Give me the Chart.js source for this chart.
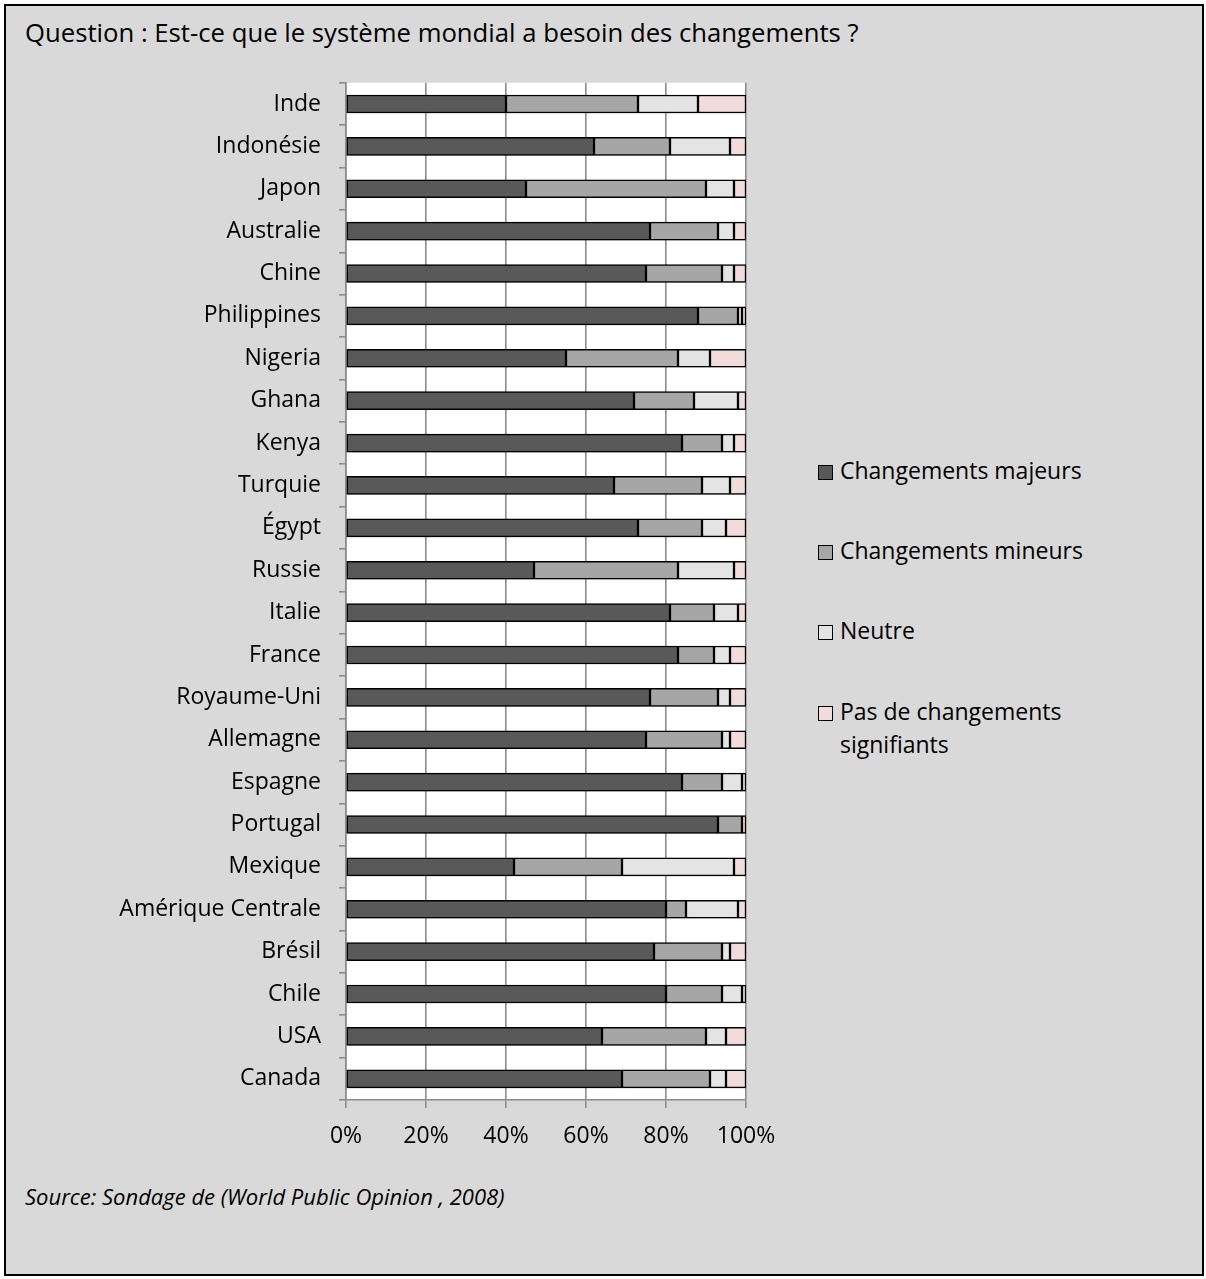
<!DOCTYPE html>
<html lang="fr">
<head>
<meta charset="utf-8">
<title>Système mondial - changements</title>
<script src="https://cdn.jsdelivr.net/npm/chart.js"></script>
<style>
  html, body { margin: 0; padding: 0; background: #fff; }
  body { width: 1206px; height: 1279px; position: relative; font-family: "Open Sans", sans-serif; color: #000; }
  #frame { position: absolute; left: 4px; top: 4px; width: 1196px; height: 1268px; background: #d9d9d9; border: 2px solid #000; }
  #title { position: absolute; left: 25px; top: 15px; font-size: 25.7px; white-space: nowrap; }
  #source { position: absolute; left: 25px; top: 1181px; font-size: 22px; font-style: italic; white-space: nowrap; }
  #chartBox { position: absolute; left: 0; top: 51px; width: 800px; height: 1100px; }
  #legend { position: absolute; left: 818px; top: 454px; font-size: 23px; }
  .item { position: absolute; left: 0; white-space: nowrap; line-height: 33px; }
  .item .sw { position: absolute; left: 0; top: 11px; width: 13px; height: 13px; border: 1px solid #000; }
  .item .txt { position: absolute; left: 22px; top: 0; }
</style>
</head>
<body>
<div id="frame"></div>
<div id="title">Question : Est-ce que le système mondial a besoin des changements ?</div>
<div id="chartBox"><canvas id="chart" width="800" height="1100"></canvas></div>
<div id="legend"></div>
<div id="source">Source: Sondage de (World Public Opinion , 2008)</div>
<script>
// categories, top to bottom
const pays = ['Inde', 'Indonésie', 'Japon', 'Australie', 'Chine', 'Philippines', 'Nigeria', 'Ghana',
    'Kenya', 'Turquie', 'Égypt', 'Russie', 'Italie', 'France', 'Royaume-Uni', 'Allemagne', 'Espagne',
    'Portugal', 'Mexique', 'Amérique Centrale', 'Brésil', 'Chile', 'USA', 'Canada'];

// shares in %
const majeurs = [40, 62, 45, 76, 75, 88, 55, 72, 84, 67, 73, 47, 81, 83, 76, 75, 84, 93, 42, 80, 77, 80, 64, 69];
const mineurs = [33, 19, 45, 17, 19, 10, 28, 15, 10, 22, 16, 36, 11, 9, 17, 19, 10, 6, 27, 5, 17, 14, 26, 22];
const neutre = [15, 15, 7, 4, 3, 1, 8, 11, 3, 7, 6, 14, 6, 4, 3, 2, 5, 0, 28, 13, 2, 5, 5, 4];
const pasDeChangements = [12, 4, 3, 3, 3, 1, 9, 2, 3, 4, 5, 3, 2, 4, 4, 4, 1, 1, 3, 2, 4, 1, 5, 5];

const xTicks = [0, 20, 40, 60, 80, 100];

const seriesNames = ['Changements majeurs', 'Changements mineurs', 'Neutre', ['Pas de changements', 'signifiants']];
const seriesColors = ['#595959', '#a6a6a6', '#e4e4e4', '#f2dcdb'];
const seriesData = [majeurs, mineurs, neutre, pasDeChangements];

// white plot background
const plotBackground = {
    id: 'plotBackground',
    beforeDraw(chart) {
        const { ctx, chartArea } = chart;
        ctx.save();
        ctx.fillStyle = '#ffffff';
        ctx.fillRect(chartArea.left, chartArea.top, chartArea.right - chartArea.left, chartArea.bottom - chartArea.top);
        ctx.restore();
    }
};

// soft shadow under the bars, like the office chart
const barShadow = {
    id: 'barShadow',
    beforeDatasetsDraw(chart) {
        const ctx = chart.ctx;
        ctx.save();
        ctx.shadowColor = 'rgba(0,0,0,0.22)';
        ctx.shadowBlur = 4;
        ctx.shadowOffsetX = 1;
        ctx.shadowOffsetY = 3;
    },
    afterDatasetsDraw(chart) {
        chart.ctx.restore();
    }
};

const datasets = seriesData.map((values, i) => ({
    label: Array.isArray(seriesNames[i]) ? seriesNames[i].join(' ') : seriesNames[i],
    data: values,
    backgroundColor: seriesColors[i],
    borderColor: '#000',
    borderWidth: 1.5,
    borderSkipped: false,
    barThickness: 18
}));

const chart = new Chart(document.getElementById('chart'), {
    type: 'bar',
    data: { labels: pays, datasets: datasets },
    plugins: [plotBackground, barShadow],
    options: {
        indexAxis: 'y',
        responsive: false,
        animation: false,
        events: [],
        layout: { padding: { top: 12, right: 54, left: 0, bottom: 0 } },
        plugins: {
            legend: { display: false },
            tooltip: { enabled: false }
        },
        scales: {
            x: {
                stacked: true,
                min: 0,
                max: 100,
                afterBuildTicks: (scale) => { scale.ticks = xTicks.map(v => ({ value: v })); },
                afterFit: (scale) => { scale.height = 51; },
                ticks: {
                    callback: (v) => v + '%',
                    color: '#000',
                    padding: 15,
                    font: { family: 'Open Sans', size: 23 }
                },
                grid: { color: '#8c8c8c', lineWidth: 1.6, tickLength: 8 },
                border: { color: '#8c8c8c', width: 1.6 }
            },
            y: {
                stacked: true,
                afterFit: (scale) => { scale.width = 346; },
                ticks: {
                    color: '#000',
                    padding: 18,
                    autoSkip: false,
                    font: { family: 'Open Sans', size: 23 }
                },
                grid: { drawOnChartArea: false, offset: true, color: '#8c8c8c', lineWidth: 1.6, tickLength: 7 },
                border: { color: '#8c8c8c', width: 1.6 }
            }
        }
    }
});

// legend drawn as html, from the same series
const legendEl = document.getElementById('legend');
const legendTops = [0, 80, 160, 241];
seriesNames.forEach((name, i) => {
    const item = document.createElement('div');
    item.className = 'item';
    item.style.top = legendTops[i] + 'px';
    const lines = Array.isArray(name) ? name : [name];
    item.innerHTML = `<span class="sw" style="background:${seriesColors[i]}"></span><span class="txt">${lines.join('<br>')}</span>`;
    legendEl.appendChild(item);
});
</script>
</body>
</html>
